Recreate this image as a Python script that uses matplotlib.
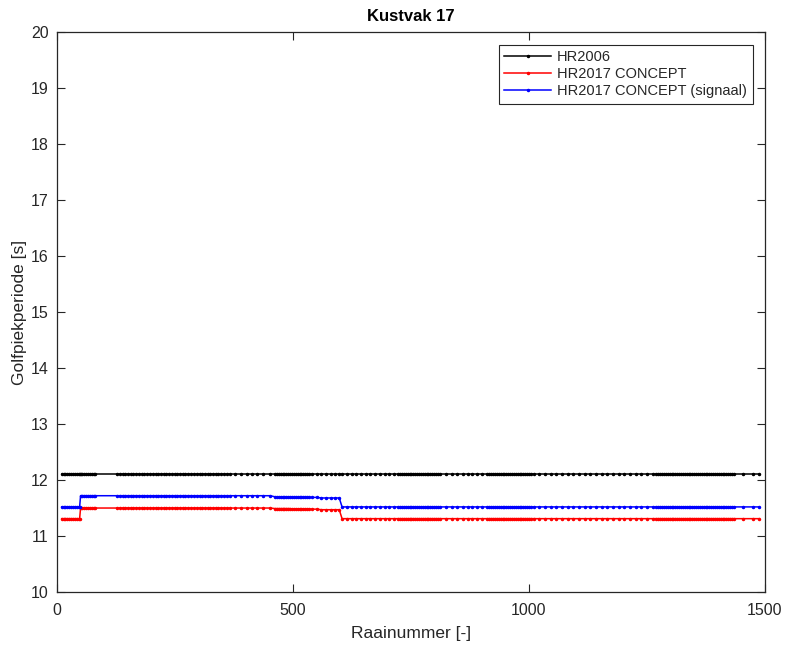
import numpy as np
import matplotlib
matplotlib.use("Agg")
import matplotlib.pyplot as plt

# Raai numbers (transects), split into sections
raai_start = [10, 14, 18, 22, 26, 30, 34, 38, 42, 46, 48]
raai_plateau = [50, 54, 58, 62, 66, 70, 74, 78, 81,
                127, 133, 139, 145, 150, 156, 162, 168, 174, 180, 185, 191, 197,
                203, 209, 214, 220, 226, 232, 238, 243, 249, 255, 261, 266, 272,
                278, 284, 290, 296, 302, 308, 313, 319, 325, 331, 336, 342, 348,
                354, 360, 366, 378, 390, 402, 414, 423, 437, 452]
raai_slope = [462, 466, 470, 474, 478, 482, 486, 490, 494, 498, 502, 506, 510,
              514, 518, 522, 526, 530, 534, 540, 550, 560, 570, 580, 590, 598]
raai_end = [604, 614, 624, 634, 644, 654, 664, 674, 684, 694, 704, 714, 722,
            727, 731, 735, 739, 743, 747, 751, 755, 759, 763, 767, 771, 775,
            779, 783, 787, 791, 795, 799, 803, 807, 812, 824, 836, 848, 860,
            870, 880, 890, 900, 912, 916, 920, 924, 928, 932, 936, 940, 944,
            948, 952, 956, 960, 964, 968, 972, 976, 980, 984, 988, 992, 996,
            1000, 1005, 1010, 1022, 1034, 1046, 1058, 1070, 1082, 1094, 1106,
            1118, 1130, 1142, 1154, 1166, 1178, 1190, 1202, 1214, 1226, 1238,
            1250, 1262, 1270, 1274, 1278, 1282, 1286, 1290, 1294, 1298, 1302,
            1306, 1310, 1314, 1318, 1322, 1326, 1330, 1334, 1338, 1342, 1346,
            1350, 1354, 1358, 1362, 1366, 1370, 1374, 1378, 1382, 1386, 1390,
            1394, 1398, 1402, 1406, 1410, 1414, 1418, 1422, 1426, 1430, 1434,
            1453, 1475, 1488]

# Golfpiekperiode levels per section [s]
hr2006_level = 12.10
concept_start = 11.31
concept_plateau = 11.50
concept_slope = [11.49, 11.49, 11.49, 11.49, 11.49, 11.49, 11.49, 11.49, 11.49,
                 11.48, 11.48, 11.48, 11.48, 11.48, 11.48, 11.48, 11.48, 11.48,
                 11.48, 11.48, 11.48, 11.47, 11.47, 11.47, 11.47, 11.47]
concept_end = 11.31
signaal_start = 11.52
signaal_plateau = 11.72
signaal_slope = [11.70, 11.70, 11.70, 11.70, 11.70, 11.70, 11.70, 11.70, 11.70,
                 11.69, 11.69, 11.69, 11.69, 11.69, 11.69, 11.69, 11.69, 11.69,
                 11.69, 11.69, 11.69, 11.68, 11.68, 11.68, 11.68, 11.68]
signaal_end = 11.52

raai = np.array(raai_start + raai_plateau + raai_slope + raai_end)

hr2006 = np.full(len(raai), hr2006_level)
concept = np.concatenate([np.full(len(raai_start), concept_start),
                          np.full(len(raai_plateau), concept_plateau),
                          concept_slope,
                          np.full(len(raai_end), concept_end)])
signaal = np.concatenate([np.full(len(raai_start), signaal_start),
                          np.full(len(raai_plateau), signaal_plateau),
                          signaal_slope,
                          np.full(len(raai_end), signaal_end)])

plt.rcParams['font.family'] = ['Liberation Sans', 'DejaVu Sans']
axis_grey = '#262626'

fig = plt.figure(figsize=(7.88, 6.46), dpi=100)
ax = fig.add_axes([0.0723, 0.0836, 0.8985, 0.8665])

ax.plot(raai, hr2006, color='black', marker='.', markersize=3, lw=1.1, label='HR2006')
ax.plot(raai, concept, color='red', marker='.', markersize=3, lw=1.1, label='HR2017 CONCEPT')
ax.plot(raai, signaal, color='blue', marker='.', markersize=3, lw=1.1, label='HR2017 CONCEPT (signaal)')

ax.set_xlim(0, 1500)
ax.set_ylim(10, 20)
ax.set_xticks([0, 500, 1000, 1500])
ax.set_yticks(np.arange(10, 21, 1))

for s in ax.spines.values():
    s.set_color(axis_grey)
    s.set_linewidth(0.9)
ax.tick_params(direction='in', length=6, width=0.8, color=axis_grey,
               labelcolor=axis_grey, labelsize=11.5, top=True, right=True)
ax.tick_params(axis='x', pad=8)
ax.tick_params(axis='y', pad=6)

ax.set_xlabel('Raainummer [-]', fontsize=12.5, color=axis_grey, labelpad=6)
ax.set_ylabel('Golfpiekperiode [s]', fontsize=12.5, color=axis_grey, labelpad=3)
ax.set_title('Kustvak 17', fontsize=12, fontweight='bold', pad=8)

leg = ax.legend(loc='upper right', fontsize=10.5, handlelength=3.2, borderpad=0.4,
                labelspacing=0.2, handletextpad=0.4, fancybox=False,
                framealpha=1, edgecolor=axis_grey, borderaxespad=0.85)
leg.get_frame().set_linewidth(0.8)
for txt in leg.get_texts():
    txt.set_color(axis_grey)

fig.savefig('out.png', dpi=100)
